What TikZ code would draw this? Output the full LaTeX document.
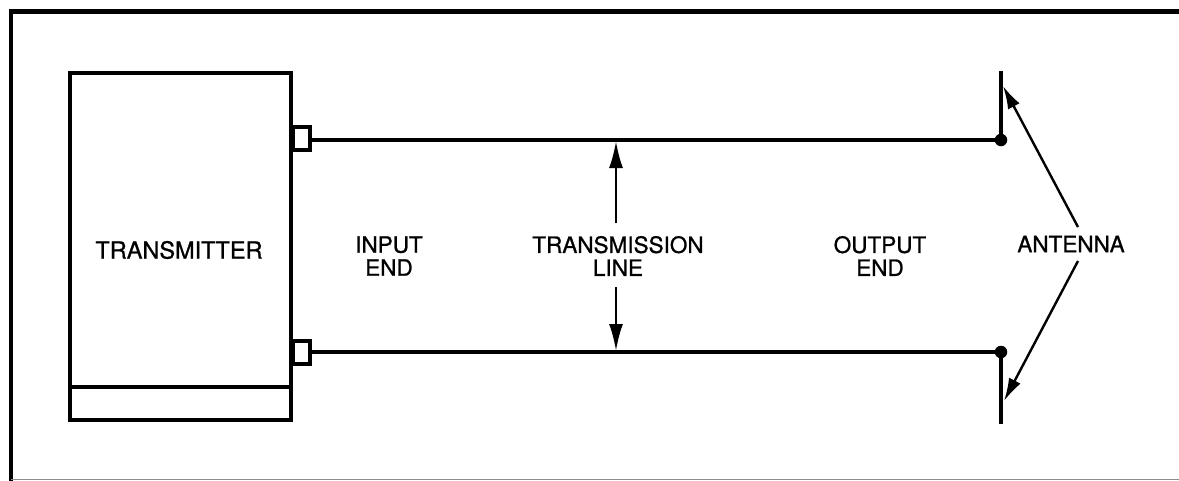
\documentclass[tikz,border=0pt]{standalone}
\usepackage{fontspec}
\setmainfont{TeX Gyre Heros}[FakeBold=0.9]
\usetikzlibrary{arrows.meta}
\begin{document}
\begin{tikzpicture}[x=1pt,y=-1pt,
  thick line/.style={line width=3.6pt},
  lbl/.style={align=center,inner sep=0pt,font=\fontsize{22.5}{23}\selectfont},
  port/.style={draw,line width=3.2pt,minimum width=17pt,minimum height=23pt,inner sep=0pt},
  jdot/.style={circle,fill=black,minimum size=12.5pt,inner sep=0pt},
  tlarr/.style={line width=2.4pt,-{Latex[length=27pt,width=14pt]}},
  antarr/.style={line width=2.4pt,-{Latex[length=23pt,width=13pt]}}]
\useasboundingbox (0,0) rectangle (1179,480);
% frame
\draw[line width=4.5pt] (1190,11.5) -- (11,11.5) -- (11,490);
\draw[line width=1.5pt,black!45] (11,479.3) -- (1190,479.3);
% transmitter
\node[draw,line width=3.8pt,minimum width=221pt,minimum height=347pt,inner sep=0pt] (tx) at (180.5,246.5) {};
\draw[line width=4.2pt] (tx.west |- 0,387) -- (tx.east |- 0,387);
\node[lbl,font=\fontsize{23.5}{24}\selectfont] (txl) at (179,250) {TRANSMITTER};
% ports
\node[port] (p1) at (301.5,138.5) {};
\node[port] (p2) at (301.5,352.5) {};
% junction dots
\node[jdot] (d1) at (1001,140) {};
\node[jdot] (d2) at (1001,352) {};
% lines
\draw[thick line] (p1.east |- d1) -- (d1.center);
\draw[thick line] (p2.east |- d2) -- (d2.center);
% antenna
\coordinate (atop) at (1001,71);
\coordinate (abot) at (1001,424);
\draw[line width=4pt] (atop) -- (d1.center);
\draw[line width=4pt] (d2.center) -- (abot);
% labels
\node[lbl] (inl) at (389,256) {INPUT\\END};
\node[lbl] (tll) at (618,256) {TRANSMISSION\\LINE};
\node[lbl] (outl) at (880,256) {OUTPUT\\END};
\node[lbl] (antl) at (1071,244) {ANTENNA};
% transmission line arrows
\coordinate (tls) at (616,223);
\coordinate (tlt) at (616,141);
\coordinate (tlbs) at (616,287);
\coordinate (tlbt) at (616,351);
\draw[tlarr] (tls) -- (tlt);
\draw[tlarr] (tlbs) -- (tlbt);
% antenna arrows
\coordinate (as1) at (1078,227);
\coordinate (at1) at (1003,86);
\coordinate (as2) at (1078,261);
\coordinate (at2) at (1004,401);
\draw[antarr] (as1) -- (at1);
\draw[antarr] (as2) -- (at2);
\end{tikzpicture}
\end{document}
